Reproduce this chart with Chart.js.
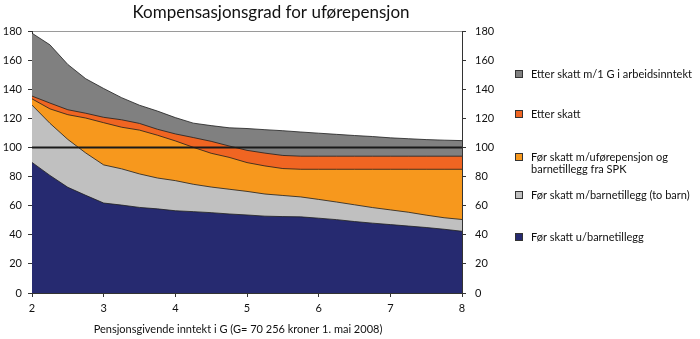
<!DOCTYPE html>
<html>
<head>
<meta charset="utf-8">
<script src="https://cdn.jsdelivr.net/npm/chart.js@4/dist/chart.umd.min.js"></script>
<style>
    html, body { margin: 0; background: #fff; }
    #wrap { width: 700px; height: 339px; }
</style>
</head>
<body>
<div id="wrap"><canvas id="chart" width="700" height="339"></canvas></div>
<script>
// inntekt i G (x-aksen)
const xValues = [2, 2.25, 2.5, 2.75, 3, 3.25, 3.5, 3.75, 4, 4.25, 4.5, 4.75, 5,
    5.25, 5.5, 5.75, 6, 6.25, 6.5, 6.75, 7, 7.25, 7.5, 7.75, 8];

// kompensasjonsgrad i prosent, lest av figuren
const etterSkatt1G = [178.5, 170.5, 157, 147.2, 140.5, 134.2, 129, 125, 120.5, 116.7, 115, 113.5, 113,
    112.2, 111.5, 110.6, 109.8, 109, 108.2, 107.5, 106.6, 106, 105.4, 105, 104.7];
const etterSkatt = [135.3, 130.5, 125.9, 123.5, 120.7, 119, 116.5, 112.5, 109.3, 106.8, 104.2, 101, 98,
    96.1, 94.5, 94, 94, 94, 94, 94, 94, 94, 94, 94, 94];
const forSkattSPK = [133.4, 126.5, 122.5, 120.2, 117, 113.9, 111.9, 108.4, 104.5, 100.1, 96, 93.2, 89.6,
    87.3, 85.5, 85, 85, 85, 85, 85, 85, 85, 85, 85, 85];
const forSkattBarn = [129.1, 116.6, 105.5, 96.2, 88, 85.3, 81.8, 79, 77.2, 74.7, 72.8, 71.3, 69.8,
    68, 67, 66, 64.3, 62.5, 60.6, 58.7, 57.1, 55.5, 53.5, 51.7, 50.5];
const forSkattUten = [89.7, 80.8, 72.6, 67.1, 61.8, 60.4, 58.8, 57.8, 56.5, 55.9, 55.2, 54.3, 53.6,
    52.8, 52.5, 52.3, 51.4, 50.4, 49.1, 48, 47, 46, 45, 43.8, 42.4];

// referanselinje ved 100 prosent
const refX = [2, 8];
const refY = [100, 100];

const xTicks = [2, 3, 4, 5, 6, 7, 8];
const yTicks = [0, 20, 40, 60, 80, 100, 120, 140, 160, 180];

const chartTitle = 'Kompensasjonsgrad for uførepensjon';
const xTitle = 'Pensjonsgivende inntekt i G (G= 70 256 kroner 1. mai 2008)';
const seriesNames = [
    ['Etter skatt m/1 G i arbeidsinntekt'],
    ['Etter skatt'],
    ['Før skatt m/uførepensjon og', 'barnetillegg fra SPK'],
    ['Før skatt m/barnetillegg (to barn)'],
    ['Før skatt u/barnetillegg']
];
const seriesColors = ['#808080', '#f06522', '#f7981d', '#c0c0c0', '#262a70'];
const seriesData = [etterSkatt1G, etterSkatt, forSkattSPK, forSkattBarn, forSkattUten];

const FONT = 'Lato';
const toPoints = (xs, ys) => xs.map((x, i) => ({ x: x, y: ys[i] }));

// flatene, den øverste tegnes først (høyest order ligger bakerst)
const datasets = seriesData.map((vals, i) => ({
    label: seriesNames[i].join(' '),
    data: toPoints(xValues, vals),
    backgroundColor: seriesColors[i],
    borderColor: '#1e1e1e',
    borderWidth: 0.8,
    fill: 'origin',
    pointRadius: 0,
    tension: 0,
    order: 5 - i
}));
datasets.push({
    label: '100',
    data: toPoints(refX, refY),
    borderColor: '#1a1a1a',
    borderWidth: 2,
    fill: false,
    pointRadius: 0,
    order: -1
});

// tittel, x-tittel og forklaring tegnes for hånd
const overlay = {
    id: 'overlay',
    afterDraw(chart) {
        const ctx = chart.ctx;
        ctx.save();
        ctx.fillStyle = '#111';
        ctx.textBaseline = 'middle';
        ctx.textAlign = 'center';
        ctx.font = '17px ' + FONT;
        ctx.fillText(chartTitle, 271, 13);
        ctx.font = '11px ' + FONT;
        ctx.fillText(xTitle, 238, 329);

        const rows = [74, 114, 157, 195, 237];
        ctx.textAlign = 'left';
        seriesNames.forEach((lines, i) => {
            const y = rows[i];
            ctx.fillStyle = seriesColors[i];
            ctx.fillRect(515.5, y - 3.5, 7, 7);
            ctx.strokeStyle = '#333';
            ctx.lineWidth = 1;
            ctx.strokeRect(515.5, y - 3.5, 7, 7);
            ctx.fillStyle = '#111';
            lines.forEach((t, j) => ctx.fillText(t, 531, y + j * 12));
        });
        ctx.restore();
    }
};

const tickFont = { family: FONT, size: 11 };

new Chart(document.getElementById('chart'), {
    type: 'line',
    data: { datasets: datasets },
    options: {
        responsive: false,
        animation: false,
        layout: { padding: { left: 0, right: 200, top: 31, bottom: 0 } },
        plugins: {
            legend: { display: false },
            tooltip: { enabled: false },
            title: { display: false }
        },
        scales: {
            x: {
                type: 'linear',
                min: 2,
                max: 8,
                afterBuildTicks: (s) => { s.ticks = xTicks.map(v => ({ value: v })); },
                afterFit: (s) => { s.height = 46; },
                ticks: { font: tickFont, color: '#111', padding: 5, maxRotation: 0 },
                grid: { drawOnChartArea: false, tickColor: '#333', tickLength: 4 },
                border: { color: '#333', width: 1 }
            },
            y: {
                position: 'left',
                min: 0,
                max: 180,
                afterBuildTicks: (s) => { s.ticks = yTicks.map(v => ({ value: v })); },
                afterFit: (s) => { s.width = 32; },
                ticks: { font: tickFont, color: '#111', padding: 6 },
                grid: {
                    color: (c) => (c.tick && c.tick.value === 180 ? '#9a9a9a' : 'rgba(0,0,0,0)'),
                    tickColor: '#333',
                    tickLength: 4
                },
                border: { color: '#333', width: 1 }
            },
            y2: {
                position: 'right',
                min: 0,
                max: 180,
                afterBuildTicks: (s) => { s.ticks = yTicks.map(v => ({ value: v })); },
                afterFit: (s) => { s.width = 38; },
                ticks: { font: tickFont, color: '#111', padding: 9 },
                grid: { drawOnChartArea: false, tickColor: '#333', tickLength: 4 },
                border: { color: '#333', width: 1 }
            }
        }
    },
    plugins: [overlay]
});
</script>
</body>
</html>
